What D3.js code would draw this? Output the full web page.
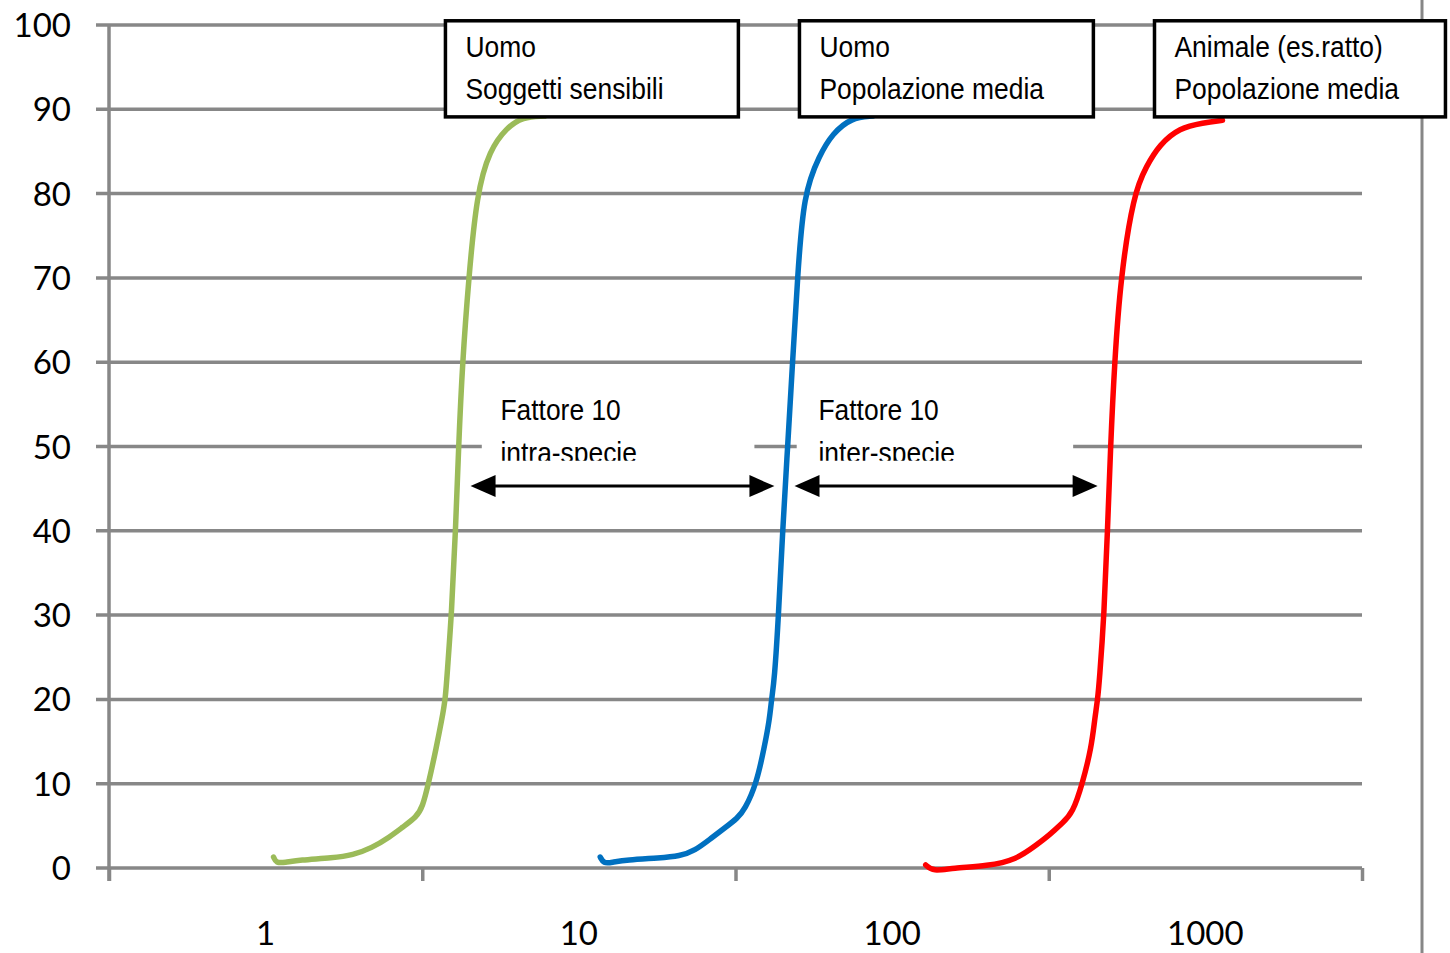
<!DOCTYPE html>
<html>
<head>
<meta charset="utf-8">
<script src="https://cdn.jsdelivr.net/npm/d3@7"></script>
<style>
  html, body { margin: 0; padding: 0; background: #fff; }
  svg { display: block; }
</style>
</head>
<body>
<svg id="chart" width="1450" height="953"></svg>
<script>
// Dose categories on the logarithmic axis (one decade per category)
const doseLabels = ["1", "10", "100", "1000"];
const doseValues = [1, 10, 100, 1000];
const responseTicks = [0, 10, 20, 30, 40, 50, 60, 70, 80, 90, 100];

// Dose–response curve: humans, sensitive subjects
const sensitiveDose = [1.06, 1.08, 1.15, 1.28, 1.64, 1.90, 2.18, 2.49, 2.74, 3.03, 3.17, 3.31, 3.51, 3.65, 3.75, 3.81, 3.92, 4.04, 4.13, 4.25, 4.45, 4.72, 5.19, 5.88, 6.61, 7.77];
const sensitiveResp = [1.30, 0.59, 0.65, 0.95, 1.19, 1.54, 2.37, 3.68, 4.86, 6.05, 7.24, 10.0, 14.35, 17.6, 20.0, 23.8, 30.0, 40.0, 50.0, 60.0, 70.0, 80.0, 85.2, 87.8, 89.1, 89.2];

// Dose–response curve: humans, average population
const humanDose = [11.7, 12.0, 12.7, 14.2, 18.1, 21.0, 23.4, 26.5, 29.2, 32.1, 33.8, 36.9, 39.1, 40.6, 41.2, 42.1, 43.4, 44.7, 46.4, 48.1, 49.9, 52.1, 58.7, 64.5, 74.0, 87.0];
const humanResp = [1.30, 0.53, 0.65, 0.95, 1.19, 1.42, 2.02, 3.56, 4.74, 5.93, 6.88, 10.0, 14.35, 17.6, 20.0, 22.3, 30.0, 40.0, 50.0, 60.0, 70.0, 80.0, 84.6, 87.1, 89.0, 89.2];

// Dose–response curve: animal (rat), average population
const animalDose = [128, 135, 156, 202, 248, 289, 318, 350, 377, 405, 433, 443, 453, 459, 475, 487, 498, 513, 536, 590, 649, 714, 827, 984, 1134];
const animalResp = [0.36, -0.42, 0.0, 0.24, 0.95, 2.73, 3.91, 5.34, 6.52, 10.0, 14.35, 17.6, 20.0, 22.3, 30.0, 40.0, 50.0, 60.0, 70.0, 80.0, 83.3, 85.8, 87.8, 88.4, 88.7];

const seriesColors = ["#9BBB59", "#0070C0", "#FF0000"];

// Legend boxes above the curves: [dose left, dose right], [top %, bottom %]
const legendLines = [
  ["Uomo", "Soggetti sensibili"],
  ["Uomo", "Popolazione media"],
  ["Animale (es.ratto)", "Popolazione media"]
];
const legendDoseSpan = [[3.75, 32.3], [50.6, 439], [688, 5840]];
const legendRespSpan = [100.5, 89.1];

// Safety-factor annotations between curves
const factorLines = [
  ["Fattore 10", "intra-specie"],
  ["Fattore 10", "inter-specie"]
];
const factorBoxDose = [[4.89, 36.4], [49.5, 379]];
const factorTextDose = [5.62, 58.2];
const factorBoxResp = [57.4, 48.3];
const arrowDose = [[4.51, 42.1], [48.8, 453]];
const arrowResp = 45.3;

// ---- Scales ----
const W = 1450, H = 953;
const plotLeft = 109, plotRight = 1362, plotTop = 25, plotBottom = 868;
const x = d3.scaleLog()
  .domain([1 / Math.sqrt(10), 1000 * Math.sqrt(10)])
  .range([plotLeft, plotRight]);
const y = d3.scaleLinear().domain([0, 100]).range([plotBottom, plotTop]);

const svg = d3.select("#chart");
svg.append("rect").attr("width", W).attr("height", H).attr("fill", "#fff");

const gridColor = "#878787";

// Horizontal gridlines (extend left as tick marks)
svg.append("g").selectAll("line").data(responseTicks).join("line")
  .attr("x1", plotLeft - 13).attr("x2", plotRight)
  .attr("y1", d => y(d)).attr("y2", d => y(d))
  .attr("stroke", gridColor).attr("stroke-width", 3.5);

// Vertical value axis
svg.append("line")
  .attr("x1", plotLeft).attr("x2", plotLeft)
  .attr("y1", y(100)).attr("y2", y(0) + 13)
  .attr("stroke", gridColor).attr("stroke-width", 3.5);

// Category boundaries on the dose axis
const bounds = doseValues.map(v => v / Math.sqrt(10)).concat([doseValues[doseValues.length - 1] * Math.sqrt(10)]);
const xAxis = d3.axisBottom(x).tickValues(bounds).tickFormat("").tickSize(13).tickSizeOuter(0);
const gx = svg.append("g").attr("transform", `translate(0,${y(0)})`).call(xAxis);
gx.select(".domain").remove();
gx.selectAll(".tick line").attr("stroke", gridColor).attr("stroke-width", 3.5);

// Right frame line
svg.append("line")
  .attr("x1", 1422).attr("x2", 1422).attr("y1", 0).attr("y2", H)
  .attr("stroke", gridColor).attr("stroke-width", 3);

// Axis labels
svg.append("g").selectAll("text").data(responseTicks).join("text")
  .attr("x", 71).attr("y", d => y(d) + 12)
  .attr("text-anchor", "end")
  .attr("font-family", "Lato, 'Open Sans', sans-serif")
  .attr("font-size", 33).attr("fill", "#000")
  .text(d => d);

svg.append("g").selectAll("text").data(doseValues).join("text")
  .attr("x", d => x(d)).attr("y", 945)
  .attr("text-anchor", "middle")
  .attr("font-family", "Lato, 'Open Sans', sans-serif")
  .attr("font-size", 33).attr("fill", "#000")
  .text((d, i) => doseLabels[i]);

// Curves
const series = [
  d3.zip(sensitiveDose, sensitiveResp),
  d3.zip(humanDose, humanResp),
  d3.zip(animalDose, animalResp)
];
const line = d3.line()
  .x(d => x(d[0])).y(d => y(d[1]))
  .curve(d3.curveBasis);
svg.append("g").selectAll("path").data(series).join("path")
  .attr("d", line)
  .attr("fill", "none")
  .attr("stroke", (d, i) => seriesColors[i])
  .attr("stroke-width", 5.5)
  .attr("stroke-linecap", "round")
  .attr("stroke-linejoin", "round");

// Double-headed arrows
const headLen = 25, headHalf = 11;
const arrows = svg.append("g");
arrowDose.forEach(([d0, d1]) => {
  const x0 = x(d0), x1 = x(d1), ay = y(arrowResp);
  arrows.append("line")
    .attr("x1", x0 + headLen - 2).attr("x2", x1 - headLen + 2)
    .attr("y1", ay).attr("y2", ay)
    .attr("stroke", "#000").attr("stroke-width", 3);
  arrows.append("path")
    .attr("d", `M${x0},${ay} L${x0 + headLen},${ay - headHalf} L${x0 + headLen},${ay + headHalf} Z`)
    .attr("fill", "#000");
  arrows.append("path")
    .attr("d", `M${x1},${ay} L${x1 - headLen},${ay - headHalf} L${x1 - headLen},${ay + headHalf} Z`)
    .attr("fill", "#000");
});

const labelFont = "'Liberation Sans', Arial, sans-serif";
const narrow = 0.88;

// Factor text boxes (white, clipped at the bottom)
const defs = svg.append("defs");
factorLines.forEach((lines, i) => {
  const bx0 = x(factorBoxDose[i][0]), bx1 = x(factorBoxDose[i][1]);
  const by0 = y(factorBoxResp[0]), by1 = y(factorBoxResp[1]);
  defs.append("clipPath").attr("id", "factor-clip-" + i)
    .append("rect").attr("x", bx0).attr("y", by0)
    .attr("width", bx1 - bx0).attr("height", by1 - by0);
  const g = svg.append("g").attr("clip-path", `url(#factor-clip-${i})`);
  g.append("rect").attr("x", bx0).attr("y", by0)
    .attr("width", bx1 - bx0).attr("height", by1 - by0).attr("fill", "#fff");
  const tx = x(factorTextDose[i]);
  lines.forEach((t, k) => {
    g.append("text")
      .attr("transform", `translate(${tx},${by1 - 41 + k * 43}) scale(${narrow},1)`)
      .attr("font-family", labelFont).attr("font-size", 30).attr("fill", "#000")
      .text(t);
  });
});

// Legend boxes
legendLines.forEach((lines, i) => {
  const bx0 = x(legendDoseSpan[i][0]), bx1 = x(legendDoseSpan[i][1]);
  const by0 = y(legendRespSpan[0]), by1 = y(legendRespSpan[1]);
  const g = svg.append("g");
  g.append("rect").attr("x", bx0).attr("y", by0)
    .attr("width", bx1 - bx0).attr("height", by1 - by0)
    .attr("fill", "#fff").attr("stroke", "#000").attr("stroke-width", 3.5);
  lines.forEach((t, k) => {
    g.append("text")
      .attr("transform", `translate(${bx0 + 20},${by0 + 36 + k * 42}) scale(${narrow},1)`)
      .attr("font-family", labelFont).attr("font-size", 30).attr("fill", "#000")
      .text(t);
  });
});
</script>
</body>
</html>
